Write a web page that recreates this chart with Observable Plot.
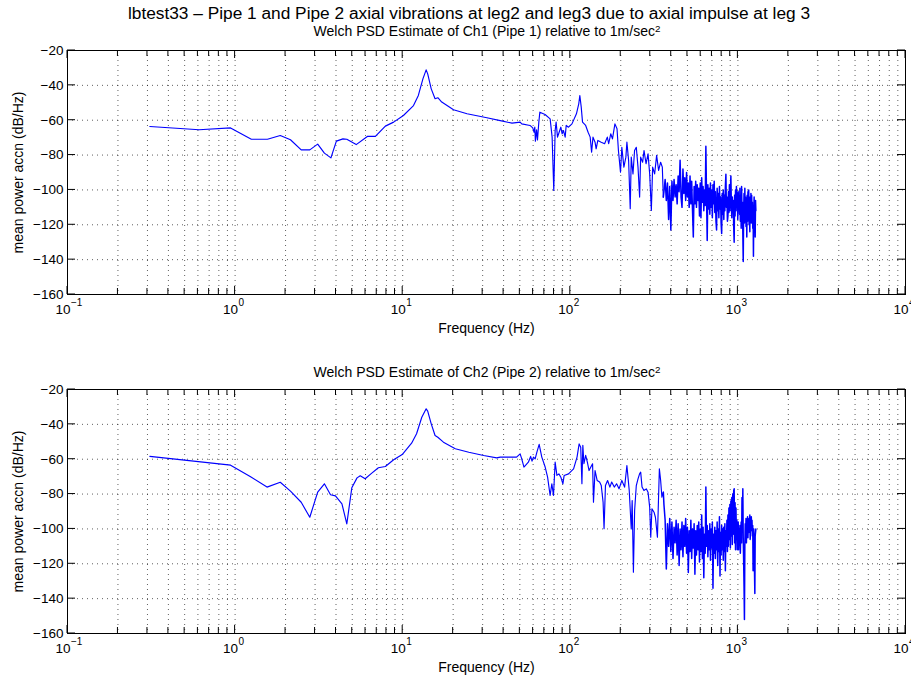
<!DOCTYPE html>
<html><head><meta charset="utf-8">
<script src="https://cdn.jsdelivr.net/npm/d3@7"></script>
<script src="https://cdn.jsdelivr.net/npm/@observablehq/plot@0.6"></script>
<style>
body{margin:0;background:#fff;font-family:"Liberation Sans",Arial,sans-serif;}
#wrap{position:relative;width:911px;height:679px;overflow:hidden;background:#fff;}
.ttl{position:absolute;white-space:nowrap;transform:translate(-50%,-50%);color:#000;line-height:1;}
.ttl sup{font-size:70%;vertical-align:0.45em;line-height:0;}
.panel{position:absolute;left:0;}
</style></head><body><div id="wrap"></div>
<script>
// ---------- text ----------
const mainTitle = "lbtest33 \u2013 Pipe 1 and Pipe 2 axial vibrations at leg2 and leg3 due to axial impulse at leg 3";
const subTitles = ["Welch PSD Estimate of Ch1 (Pipe 1) relative to 1m/sec", "Welch PSD Estimate of Ch2 (Pipe 2) relative to 1m/sec"];
const xLabel = "Frequency (Hz)";
const yLabel = "mean power accn (dB/Hz)";
const xTickValues = [0.1, 1, 10, 100, 1000, 10000];
const xTickExponents = ["\u22121", "0", "1", "2", "3", "4"];
const yTickValues = [-160, -140, -120, -100, -80, -60, -40, -20];
const yGridValues = [-140, -120, -100, -80, -60, -40];

// ---------- Ch1 (Pipe 1) ----------
const ch1Freq = [0.31,0.61,0.94,1.25,1.56,1.86,2.14,2.48,2.79,3.11,3.41,3.73,4.02,4.40,4.64,5.28,6.18,6.87,7.88,8.83,10.1,11.6,12.4,13.2,13.8,14.1,14.8,15.6,16.2,17.1,20.1,24.2,31.8,
 38.2,44.9,50.2,51.3,57.5,59.7,60.8,61.4,61.9,62.9,63.7,64.9,65.8,70.7,75.8,77.9,79.7,81.2,82.3,83.9,85.8,87.8,89.4,91.0,93.2,94.5,97.6,102.3,108.8,112.3,114.0,116.2,118.3,123.5,127.7,131.4,134.0,136.6,140.5,142.6,146.0,152.9,160.2,166.3,169.4,174.3,178.5,184.6,190.0,193.7,199.3,203.0,208.8,214.6,217.6,222.8,227.8,
 231,236.6,241.8,247.6,253.5,259.2,262.8,270.1,275.4,283.1,291,297.6,304.5,310,318.6,327.4,336.5,345.9,354,358.9];
const ch1Psd = [-63.6,-65.5,-64.4,-70.9,-70.9,-68.8,-71.2,-77.0,-77.0,-73.7,-78.9,-81.6,-72.0,-70.7,-70.9,-74.0,-69.2,-69.3,-63.4,-61.1,-57.3,-51.6,-45.8,-36.3,-31.1,-33.4,-42.0,-47.7,-47.1,-49.6,-54.0,-56.3,-58.6,
 -60.2,-61.7,-61.1,-62.1,-63.0,-64.4,-66.9,-64.0,-72.0,-65.5,-71.3,-61.1,-55.4,-56.7,-59.2,-69.7,-100.3,-65.9,-61.1,-69.7,-66.9,-64.0,-67.8,-65.9,-69.7,-63.0,-64.0,-62.1,-56.3,-50.6,-45.8,-52.5,-61.1,-63.0,-66.9,-69.7,-78.3,-69.7,-72.6,-76.4,-71.6,-72.6,-73.5,-69.7,-73.5,-67.8,-70.7,-62.1,-64.9,-77.4,-89.8,-75.5,-86.9,-81.2,-72.6,-83.1,-110.8,
 -81.2,-90.8,-77.4,-75.5,-86.9,-104.1,-81.2,-84.1,-77.4,-85.0,-79.3,-90.8,-111.8,-86.9,-90.8,-80.2,-88.8,-84.1,-86.9,-104.1];

// ---------- Ch2 (Pipe 2) ----------
const ch2Freq = [0.31,0.94,1.23,1.55,1.86,2.14,2.48,2.79,3.11,3.41,3.71,3.97,4.34,4.64,4.97,5.34,5.58,5.97,6.54,7.16,7.88,8.83,9.93,11.3,12.1,13.0,13.8,14.1,14.8,15.6,16.2,17.5,20.6,24.8,30.4,36.4,
 38.2,47.8,50.2,51.3,52.9,56.2,58.0,59.1,60.3,61.7,63.2,65.2,67.6,70.8,73.2,75.8,77.6,79.4,81.2,83.2,85.5,87.8,90.3,91.9,97.6,104.6,109.7,112.9,115.4,117.3,118.8,120.6,123.5,126.4,129.4,132.6,135.8,137.5,140.5,144.6,149.6,153.0,156.9,159.0,162.1,166.9,172.3,176.6,183.0,188.9,195.3,203.0,210.9,217.6,224.7,
 231,234,238,242,247.6,253.5,259,263,268,275,284,291,297.6,302,307,316,322,331,340,346,352,359];
const ch2Psd = [-58.4,-63.4,-69.9,-76.0,-73.2,-78.3,-84.7,-93.3,-78.9,-74.1,-80.4,-81.0,-85.6,-97.1,-76.4,-70.7,-69.5,-71.2,-68.0,-64.9,-64.2,-60.3,-57.3,-50.8,-45.4,-35.9,-31.1,-32.4,-39.7,-46.4,-47.4,-50.2,-54.0,-56.0,-57.9,-59.2,
 -58.8,-58.8,-56.9,-59.8,-64.5,-61.7,-58.4,-61.1,-58.8,-59.8,-55.9,-51.5,-58.8,-64.5,-70.3,-80.8,-74.1,-80.8,-61.7,-69.3,-68.4,-70.3,-74.1,-69.3,-68.4,-65.5,-58.8,-51.2,-53.1,-74.1,-52.0,-62.6,-57.8,-61.7,-66.5,-64.5,-62.6,-84.7,-66.5,-72.2,-73.1,-75.1,-84.6,-99.9,-75.1,-72.2,-76.0,-73.1,-76.0,-74.1,-77.0,-72.2,-76.0,-63.6,-77.9,
 -100,-83.7,-124.8,-89.4,-75.1,-71.3,-68.4,-67.4,-76,-78,-77,-78.9,-87.5,-104.7,-88.5,-90.4,-93.3,-104.7,-65.5,-72.2,-81.8,-78.9];

// ---------- high-frequency (noisy) bins shared by both channels ----------
const noiseFreq = [362,368,374,380,386,392,398,404,410,416,422,428,434,440,446,452,458,464,470,476,482,488,494,500,506,512,518,524,530,536,542,548,554,560,566,572,578,584,590,596,602,608,614,620,626,632,638,644,650,656,662,668,674,680,686,692,698,704,710,716,722,728,734,740,746,752,758,764,770,776,782,788,794,800,806,812,818,824,830,836,842,848,854,860,866,872,878,884,890,896,902,908,914,920,926,932,938,944,950,956,962,968,974,980,986,992,998,1004,1010,1016,1022,1028,1034,1040,1046,1052,1058,1064,1070,1076,1082,1088,1094,1100,1106,1112,1118,1124,1130,1136,1142,1148,1154,1160,1166,1172,1178,1184,1190,1196,1202,1208,1214,1220,1226,1232,1238,1244,1250,1256,1262,1268,1274,1280];
const ch1NoisePsd = [-101,-94,-106,-96,-117,-98,-123,-95,-106,-94,-104,-97,-108,-92,-101,-83,-104,-110,-88,-102,-93,-106,-90,-104,-96,-110,-92,-108,-95,-112,-127,-98,-108,-95,-110,-97,-106,-99,-115,-96,-116,-93,-107,-98,-112,-100,-109,-75,-104,-129,-97,-111,-99,-114,-96,-110,-100,-116,-97,-108,-95,-113,-101,-118,-123,-99,-112,-102,-116,-98,-111,-104,-119,-125,-102,-114,-100,-117,-103,-112,-98,-91,-110,-104,-118,-115,-101,-113,-97,-112,-100,-92,-108,-116,-104,-113,-106,-121,-130,-103,-115,-100,-112,-98,-108,-102,-117,-101,-111,-104,-114,-99,-118,-105,-122,-98,-113,-107,-125,-141,-112,-102,-119,-99,-115,-104,-121,-108,-127,-103,-118,-101,-114,-100,-120,-106,-124,-104,-117,-102,-119,-103,-115,-107,-122,-110,-138,-112,-104,-120,-108,-127,-106,-112];
const ch2NoisePsd = [-86,-95,-123,-97,-110,-94,-113,-96,-117,-99,-108,-95,-115,-97,-121,-100,-112,-96,-116,-98,-110,-94,-114,-99,-125,-101,-113,-95,-117,-100,-111,-97,-126,-101,-115,-98,-112,-96,-119,-100,-113,-92,-117,-99,-128,-103,-114,-76,-110,-98,-116,-101,-112,-97,-118,-100,-111,-96,-134,-103,-114,-99,-117,-101,-112,-96,-121,-100,-113,-93,-127,-102,-115,-98,-112,-100,-118,-99,-113,-97,-124,-101,-110,-95,-113,-92,-110,-88,-106,-86,-111,-84,-104,-82,-109,-80,-103,-78,-77,-108,-85,-112,-88,-106,-95,-112,-102,-96,-112,-100,-108,-98,-114,-103,-96,-108,-82,-100,-77,-105,-118,-133,-152,-110,-97,-104,-94,-108,-98,-101,-93,-105,-96,-102,-94,-100,-92,-106,-97,-101,-93,-99,-95,-104,-98,-124,-103,-100,-112,-124,-137,-104,-102,-100];

// ---------- build series ----------
function lowPart(freq, psd) { return freq.map((f, i) => ({f, v: psd[i]})); }
function highPart(freq, psd, nf, npsd) {
  // starts at the last low-frequency bin so the trace is continuous
  const last = freq.length - 1;
  return [{f: freq[last], v: psd[last]}].concat(nf.map((f, i) => ({f, v: npsd[i]})));
}
const ch1 = {low: lowPart(ch1Freq, ch1Psd), high: highPart(ch1Freq, ch1Psd, noiseFreq, ch1NoisePsd)};
const ch2 = {low: lowPart(ch2Freq, ch2Psd), high: highPart(ch2Freq, ch2Psd, noiseFreq, ch2NoisePsd)};

const FONT = '"Liberation Sans", Arial, Helvetica, sans-serif';
const wrap = document.getElementById("wrap");

function addText(html, x, y, size) {
  const d = document.createElement("div");
  d.className = "ttl";
  d.style.left = x + "px"; d.style.top = y + "px";
  d.style.fontSize = size + "px"; d.style.fontFamily = FONT;
  d.innerHTML = html;
  wrap.appendChild(d);
}

function panel(ch, top) {
  const H = 300;
  const grid = {stroke: "#000", strokeWidth: 0.9, strokeDasharray: "1,4", strokeOpacity: 0.7};
  const plot = Plot.plot({
    width: 911, height: H,
    marginTop: 10, marginBottom: 46, marginLeft: 67, marginRight: 6,
    style: {fontFamily: FONT, fontSize: "13.5px", color: "#000", background: "#fff", overflow: "visible"},
    x: {type: "log", domain: [0.1, 10000], ticks: xTickValues, tickFormat: () => "", tickSize: 0,
        label: xLabel, labelAnchor: "center", labelOffset: 38, labelArrow: "none"},
    y: {domain: [-160, -20], ticks: yTickValues, tickFormat: d => (d < 0 ? "\u2212" + Math.abs(d) : String(d)),
        tickSize: 0, tickPadding: 4, label: yLabel, labelAnchor: "center", labelOffset: 54, labelArrow: "none"},
    marks: [
      Plot.ruleX(d3.scaleLog().domain([0.1, 10000]).ticks().filter(t => t > 0.1 && t < 10000), grid),
      Plot.ruleY(yGridValues, grid),
      Plot.line(ch.low, {x: "f", y: "v", stroke: "#0000ff", strokeWidth: 1.15}),
      Plot.line(ch.high, {x: "f", y: "v", stroke: "#0000ff", strokeWidth: 1.5}),
      Plot.frame({stroke: "#000", strokeWidth: 1}),
      Plot.text(xTickValues, {x: d => d, frameAnchor: "bottom", dy: 19, dx: 3, text: () => "10",
        textAnchor: "end", fontSize: 13.5, fill: "#000"}),
      Plot.text(xTickValues, {x: d => d, frameAnchor: "bottom", dy: 11.5, dx: 3.5, text: (d, i) => xTickExponents[i],
        textAnchor: "start", fontSize: 10, fill: "#000"})
    ]
  });
  // inward tick marks on all four sides (MATLAB style), placed with Plot's own scales
  const sx = plot.scale("x"), sy = plot.scale("y");
  const L = sx.apply(0.1), R = sx.apply(10000), T = sy.apply(-20), B = sy.apply(-160);
  const svg = d3.select(plot.tagName.toLowerCase() === "svg" ? plot : plot.querySelector("svg"));
  svg.selectAll("text").filter(function() { return this.textContent === xLabel || this.textContent === yLabel; })
     .attr("font-size", 14);
  const g = svg.append("g").attr("stroke", "#000").attr("stroke-width", 1);
  const allX = d3.scaleLog().domain([0.1, 10000]).ticks();
  allX.forEach(t => {
    const len = xTickValues.includes(t) ? 8 : 6;
    const x = sx.apply(t);
    g.append("line").attr("x1", x).attr("x2", x).attr("y1", B).attr("y2", B - len);
    g.append("line").attr("x1", x).attr("x2", x).attr("y1", T).attr("y2", T + len);
  });
  yTickValues.forEach(t => {
    const y = sy.apply(t);
    g.append("line").attr("x1", L).attr("x2", L + 8).attr("y1", y).attr("y2", y);
    g.append("line").attr("x1", R).attr("x2", R - 8).attr("y1", y).attr("y2", y);
  });
  plot.classList.add("panel");
  plot.style.position = "absolute";
  plot.style.top = top + "px";
  plot.style.left = "0px";
  wrap.appendChild(plot);
}

addText(mainTitle, 469, 14, 17.3);
addText(subTitles[0] + "<sup>2</sup>", 487, 31, 14);
panel(ch1, 40);
addText(subTitles[1] + "<sup>2</sup>", 487, 372, 14);
panel(ch2, 379);
</script></body></html>
